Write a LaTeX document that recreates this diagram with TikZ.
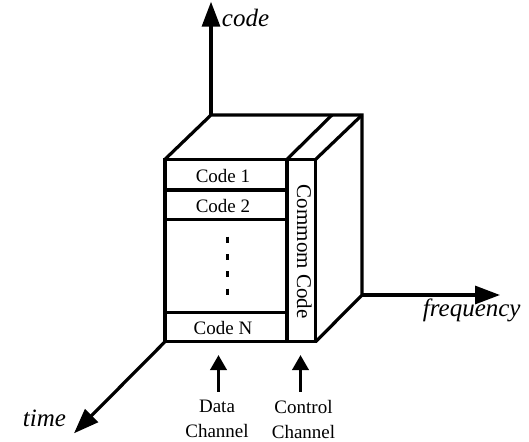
\documentclass[tikz,border=0pt]{standalone}
\usepackage{fontspec}
\setmainfont{Liberation Serif}
\usetikzlibrary{arrows.meta}
\begin{document}
\begin{tikzpicture}[x=1pt,y=-1pt,
  edge/.style={line width=3.2pt},
  axis/.style={line width=3.2pt, -{Triangle[length=25pt,width=18pt]}},
  feed/.style={line width=3.6pt, -{Triangle[length=15pt,width=16pt]}},
  slot/.style={inner sep=0pt, font=\fontsize{19}{21}\selectfont},
  axlabel/.style={inner sep=0pt, font=\fontsize{25}{27}\selectfont\itshape},
  chan/.style={inner sep=0pt, align=center, font=\fontsize{19}{25}\selectfont}]
\useasboundingbox (0,0) rectangle (529,441);
\coordinate (ftl) at (165,159.3);
\coordinate (ftm) at (287,159.3);
\coordinate (ftr) at (315.7,159.3);
\coordinate (fbl) at (165,341.7);
\coordinate (fbm) at (287,341.7);
\coordinate (fbr) at (315.7,341.7);
\coordinate (btl) at (211,115);
\coordinate (btm) at (332,115);
\coordinate (btr) at (362,115);
\coordinate (bbr) at (362,295);
\draw[edge] (ftl) rectangle (fbr);
\draw[edge] (ftm) -- (fbm);
\draw[edge] (ftl) -- (btl) -- (btr) -- (bbr) -- (fbr);
\draw[edge] (ftm) -- (btm);
\draw[edge] (ftr) -- (btr);
\draw[edge] (165,190) -- (287,190);
\draw[edge] (165,219.3) -- (287,219.3);
\draw[edge] (165,312.7) -- (287,312.7);
\draw[line width=2.4pt, dash pattern=on 6pt off 11.3pt] (227.3,236.7) -- (227.3,294.6);
\node[slot, anchor=base] (code1) at (223,182.3) {Code 1};
\node[slot, anchor=base] (code2) at (223,212.7) {Code 2};
\node[slot, anchor=base] (codeN) at (223,334.3) {Code N};
\node[slot, font=\fontsize{21}{23}\selectfont, rotate=-90, anchor=base] (common) at (297,251.7) {Commom Code};
\coordinate (codetip) at (211,1.7);
\coordinate (freqtip) at (500,295);
\coordinate (timetip) at (74,433.3);
\draw[axis] (btl) -- (codetip);
\draw[axis] (bbr) -- (freqtip);
\draw[axis] (fbl) -- (timetip);
\node[axlabel, anchor=base west] (codelbl) at (221.7,26.7) {code};
\node[axlabel, anchor=base west] (freqlbl) at (422.7,316) {frequency};
\node[axlabel, anchor=base west] (timelbl) at (22.7,426.7) {time};
\node[chan, anchor=north] (datalbl) at (217,400) {Data\\Channel};
\node[chan, anchor=north] (ctrllbl) at (303.5,400) {Control\\Channel};
\draw[feed, shorten <=8.3pt, shorten >=13.3pt] ([xshift=1.5pt]datalbl.north) -- ([xshift=1.5pt]datalbl.north |- fbl);
\draw[feed, shorten <=8.3pt, shorten >=13.3pt] ([xshift=-3pt]ctrllbl.north) -- ([xshift=-3pt]ctrllbl.north |- fbl);
\end{tikzpicture}
\end{document}
